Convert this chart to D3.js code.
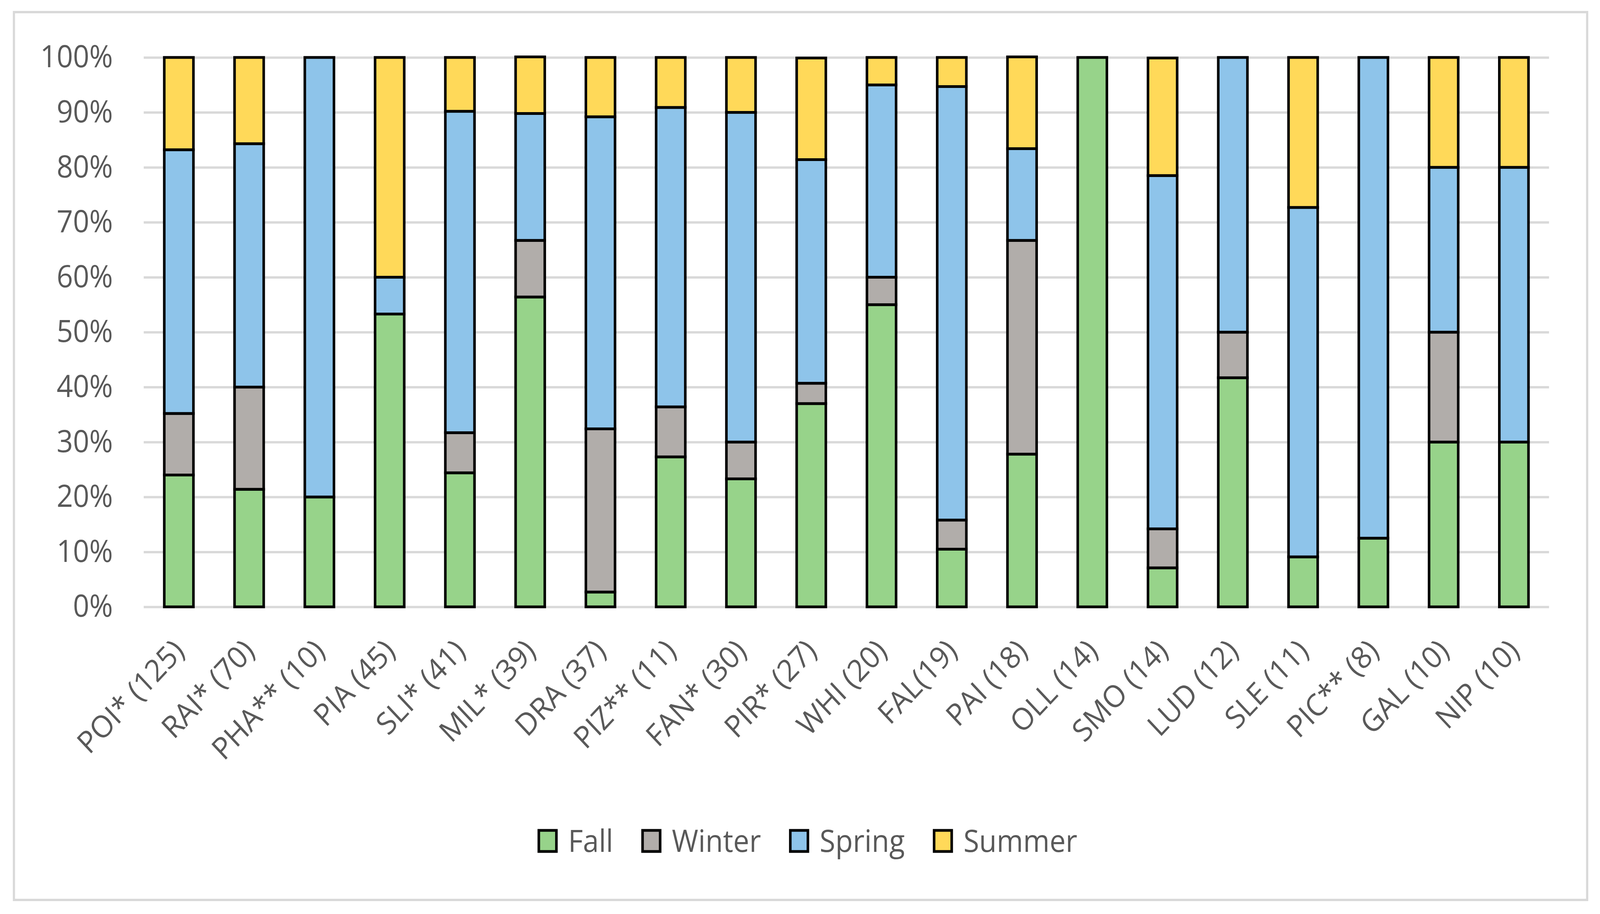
<!DOCTYPE html>
<html>
<head>
<meta charset="utf-8">
<script src="https://cdn.jsdelivr.net/npm/d3@7"></script>
<style>
  html, body { margin: 0; padding: 0; overflow: hidden; background: #ffffff; }
  svg { display: block; }
  text { font-family: "Open Sans", sans-serif; fill: #595959; }
</style>
</head>
<body>
<script>
// Data (percent of records per season)
var categories = ["POI* (125)", "RAI* (70)", "PHA** (10)", "PIA (45)", "SLI* (41)", "MIL* (39)",
  "DRA (37)", "PIZ** (11)", "FAN* (30)", "PIR* (27)", "WHI (20)", "FAL(19)", "PAI (18)",
  "OLL (14)", "SMO (14)", "LUD (12)", "SLE (11)", "PIC** (8)", "GAL (10)", "NIP (10)"];

var fall   = [24.0, 21.4, 20.0, 53.3, 24.4, 56.4, 2.7, 27.3, 23.3, 37.0, 55.0, 10.5, 27.8, 100, 7.1, 41.7, 9.1, 12.5, 30.0, 30.0];
var winter = [11.2, 18.6, 0, 0, 7.3, 10.3, 29.7, 9.1, 6.7, 3.7, 5.0, 5.3, 38.9, 0, 7.1, 8.3, 0, 0, 20.0, 0];
var spring = [48.0, 44.3, 80.0, 6.7, 58.5, 23.1, 56.8, 54.5, 60.0, 40.7, 35.0, 78.9, 16.7, 0, 64.3, 50.0, 63.6, 87.5, 30.0, 50.0];
var summer = [16.8, 15.7, 0, 40.0, 9.8, 10.3, 10.8, 9.1, 10.0, 18.5, 5.0, 5.3, 16.7, 0, 21.4, 0, 27.3, 0, 20.0, 20.0];

var seasons = ["Fall", "Winter", "Spring", "Summer"];
var yTicks = [0, 10, 20, 30, 40, 50, 60, 70, 80, 90, 100];

var colors = {Fall: "#97d38a", Winter: "#b1adaa", Spring: "#8ec4ea", Summer: "#ffd959"};

// drawing is laid out in a 4364 x 2339 space and scaled to the window
var svgWidth = 4364;
var svgHeight = 2339;

var margin = {top: 147, left: 392, right: 139, bottom: 786};
var width = svgWidth - margin.left - margin.right;
var height = svgHeight - margin.top - margin.bottom;

var svg = d3.select("body")
  .append("svg")
  .attr("width", window.innerWidth)
  .attr("height", window.innerHeight)
  .attr("viewBox", "0 0 " + svgWidth + " " + svgHeight)
  .attr("preserveAspectRatio", "none");

// chart frame
svg.append("rect")
  .attr("x", 38)
  .attr("y", 31)
  .attr("width", 4291)
  .attr("height", 2272)
  .attr("fill", "#ffffff")
  .attr("stroke", "#d9d9d9")
  .attr("stroke-width", 6);

var chartGroup = svg.append("g")
  .attr("transform", "translate(" + margin.left + "," + margin.top + ")");

// table for the stack
var table = categories.map(function(c, i) {
  return {cat: c, Fall: fall[i], Winter: winter[i], Spring: spring[i], Summer: summer[i]};
});

var xScale = d3.scaleBand()
  .domain(categories)
  .range([0, width])
  .paddingInner(0.585)
  .paddingOuter(0.2925);

var yScale = d3.scaleLinear()
  .domain([0, 100])
  .range([height, 0]);

// y axis + gridlines
var leftAxis = d3.axisLeft(yScale)
  .tickValues(yTicks)
  .tickSize(-width)
  .tickPadding(84)
  .tickFormat(function(d) { return d + "%"; });

var yAxisG = chartGroup.append("g").call(leftAxis);
yAxisG.select(".domain").remove();
yAxisG.selectAll("line")
  .attr("stroke", "#d9d9d9")
  .attr("stroke-width", 6);
yAxisG.selectAll("text")
  .attr("font-size", "78px")
  .attr("font-family", "Open Sans, sans-serif")
  .attr("fill", "#595959");

// x axis labels
var bottomAxis = d3.axisBottom(xScale).tickSize(0);
var xAxisG = chartGroup.append("g")
  .attr("transform", "translate(0," + height + ")")
  .call(bottomAxis);
xAxisG.select(".domain").remove();
xAxisG.selectAll("text")
  .attr("y", 0)
  .attr("dy", 0)
  .attr("transform", "translate(19,117) rotate(-45)")
  .style("text-anchor", "end")
  .attr("font-size", "78px")
  .attr("font-family", "Open Sans, sans-serif")
  .attr("fill", "#595959");

// stacked bars
var stacked = d3.stack().keys(seasons)(table);

var layers = chartGroup.selectAll(".layer")
  .data(stacked)
  .enter()
  .append("g")
  .attr("class", "layer")
  .attr("fill", function(d) { return colors[d.key]; });

layers.selectAll("rect")
  .data(function(d) { return d.filter(function(p) { return p[1] - p[0] > 0; }); })
  .enter()
  .append("rect")
  .attr("x", function(d) { return xScale(d.data.cat); })
  .attr("y", function(d) { return yScale(d[1]); })
  .attr("width", xScale.bandwidth())
  .attr("height", function(d) { return yScale(d[0]) - yScale(d[1]); })
  .attr("stroke", "#000000")
  .attr("stroke-width", 7);

// legend
var legend = svg.append("g");
var lx = 0;
seasons.forEach(function(s) {
  var item = legend.append("g").attr("transform", "translate(" + lx + ",0)");
  item.append("rect")
    .attr("x", 0)
    .attr("y", -27)
    .attr("width", 48)
    .attr("height", 54)
    .attr("fill", colors[s])
    .attr("stroke", "#000000")
    .attr("stroke-width", 7);
  var t = item.append("text")
    .attr("x", 80)
    .attr("y", 0)
    .attr("dy", "0.36em")
    .attr("font-size", "78px")
    .text(s);
  lx += 80 + t.node().getComputedTextLength() + 80;
});
var legendWidth = lx - 80;
legend.attr("transform", "translate(" + (2204 - legendWidth / 2) + ",2152)");
</script>
</body>
</html>
